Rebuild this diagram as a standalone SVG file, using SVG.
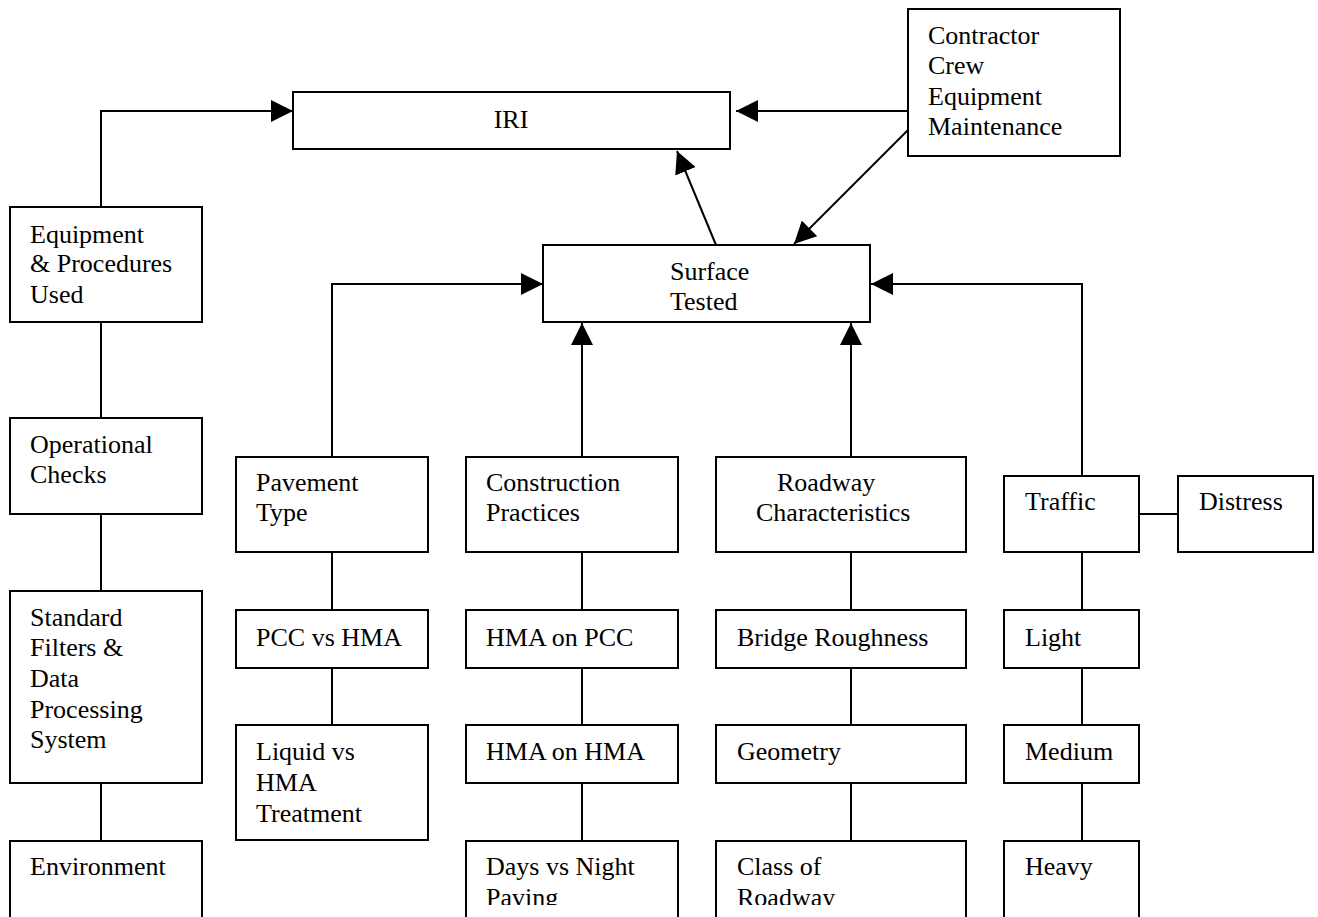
<svg xmlns="http://www.w3.org/2000/svg" width="1318" height="917" viewBox="0 0 1318 917">
<style>
rect.box{fill:#fff;stroke:#000;stroke-width:2}
text{font-family:"Liberation Serif","Times New Roman",serif;font-size:26px;fill:#000}
.ln{fill:none;stroke:#000;stroke-width:2}
.ar{fill:none;stroke:#000;stroke-width:2;marker-end:url(#ah)}
</style>
<defs>
<marker id="ah" markerUnits="userSpaceOnUse" markerWidth="22" markerHeight="22" refX="20" refY="10" orient="auto" viewBox="0 0 20 20">
<path d="M0,0 L20,10 L0,20 z" fill="#000"/>
</marker>
<clipPath id="clipb"><rect x="0" y="0" width="1318" height="905"/></clipPath>
</defs>
<rect width="1318" height="917" fill="#fff"/>
<g id="connectors">
<polyline class="ar" points="101,207 101,111 293,111"/>
<line class="ar" x1="908" y1="111" x2="736" y2="111"/>
<line class="ar" x1="908" y1="130" x2="794" y2="244"/>
<line class="ar" x1="716" y1="245" x2="677" y2="151"/>
<polyline class="ar" points="332,457 332,284 543,284"/>
<polyline class="ar" points="1082,476 1082,284 871,284"/>
<line class="ar" x1="582" y1="457" x2="582" y2="323"/>
<line class="ar" x1="851" y1="457" x2="851" y2="323"/>
<line class="ln" x1="101" y1="322" x2="101" y2="418"/>
<line class="ln" x1="101" y1="514" x2="101" y2="591"/>
<line class="ln" x1="101" y1="783" x2="101" y2="841"/>
<line class="ln" x1="332" y1="552" x2="332" y2="610"/>
<line class="ln" x1="332" y1="668" x2="332" y2="725"/>
<line class="ln" x1="582" y1="552" x2="582" y2="610"/>
<line class="ln" x1="582" y1="668" x2="582" y2="725"/>
<line class="ln" x1="582" y1="783" x2="582" y2="841"/>
<line class="ln" x1="851" y1="552" x2="851" y2="610"/>
<line class="ln" x1="851" y1="668" x2="851" y2="725"/>
<line class="ln" x1="851" y1="783" x2="851" y2="841"/>
<line class="ln" x1="1082" y1="552" x2="1082" y2="610"/>
<line class="ln" x1="1082" y1="668" x2="1082" y2="725"/>
<line class="ln" x1="1082" y1="783" x2="1082" y2="841"/>
<line class="ln" x1="1139" y1="514" x2="1178" y2="514"/>
</g>
<g id="iri"><rect class="box" x="293" y="92" width="437" height="57"/><text x="511" y="128" text-anchor="middle">IRI</text></g>
<g id="contractor"><rect class="box" x="908" y="9" width="212" height="147"/><text x="928" y="44">Contractor</text><text x="928" y="74">Crew</text><text x="928" y="105">Equipment</text><text x="928" y="135">Maintenance</text></g>
<g id="surface"><rect class="box" x="543" y="245" width="327" height="77"/><text x="670" y="280">Surface</text><text x="670" y="310">Tested</text></g>
<g id="equipment"><rect class="box" x="10" y="207" width="192" height="115"/><text x="30" y="243">Equipment</text><text x="30" y="272">&amp; Procedures</text><text x="30" y="303">Used</text></g>
<g id="operational"><rect class="box" x="10" y="418" width="192" height="96"/><text x="30" y="453">Operational</text><text x="30" y="483">Checks</text></g>
<g id="standard"><rect class="box" x="10" y="591" width="192" height="192"/><text x="30" y="626">Standard</text><text x="30" y="656">Filters &amp;</text><text x="30" y="687">Data</text><text x="30" y="718">Processing</text><text x="30" y="748">System</text></g>
<g id="environment"><rect class="box" x="10" y="841" width="192" height="90"/><text x="30" y="875">Environment</text></g>
<g id="pavement"><rect class="box" x="236" y="457" width="192" height="95"/><text x="256" y="491">Pavement</text><text x="256" y="521">Type</text></g>
<g id="pccvshma"><rect class="box" x="236" y="610" width="192" height="58"/><text x="256" y="646">PCC vs HMA</text></g>
<g id="liquid"><rect class="box" x="236" y="725" width="192" height="115"/><text x="256" y="760">Liquid vs</text><text x="256" y="791">HMA</text><text x="256" y="822">Treatment</text></g>
<g id="construction"><rect class="box" x="466" y="457" width="212" height="95"/><text x="486" y="491">Construction</text><text x="486" y="521">Practices</text></g>
<g id="hmaonpcc"><rect class="box" x="466" y="610" width="212" height="58"/><text x="486" y="646">HMA on PCC</text></g>
<g id="hmaonhma"><rect class="box" x="466" y="725" width="212" height="58"/><text x="486" y="760">HMA on HMA</text></g>
<g id="daysnight"><rect class="box" x="466" y="841" width="212" height="90"/><g clip-path="url(#clipb)"><text x="486" y="875">Days vs Night</text><text x="486" y="906">Paving</text></g></g>
<g id="roadway"><rect class="box" x="716" y="457" width="250" height="95"/><text x="777" y="491">Roadway</text><text x="756" y="521">Characteristics</text></g>
<g id="bridge"><rect class="box" x="716" y="610" width="250" height="58"/><text x="737" y="646">Bridge Roughness</text></g>
<g id="geometry"><rect class="box" x="716" y="725" width="250" height="58"/><text x="737" y="760">Geometry</text></g>
<g id="classroadway"><rect class="box" x="716" y="841" width="250" height="90"/><g clip-path="url(#clipb)"><text x="737" y="875">Class of</text><text x="737" y="906">Roadway</text></g></g>
<g id="traffic"><rect class="box" x="1004" y="476" width="135" height="76"/><text x="1025" y="510">Traffic</text></g>
<g id="distress"><rect class="box" x="1178" y="476" width="135" height="76"/><text x="1199" y="510">Distress</text></g>
<g id="light"><rect class="box" x="1004" y="610" width="135" height="58"/><text x="1025" y="646">Light</text></g>
<g id="medium"><rect class="box" x="1004" y="725" width="135" height="58"/><text x="1025" y="760">Medium</text></g>
<g id="heavy"><rect class="box" x="1004" y="841" width="135" height="90"/><text x="1025" y="875">Heavy</text></g>
</svg>
